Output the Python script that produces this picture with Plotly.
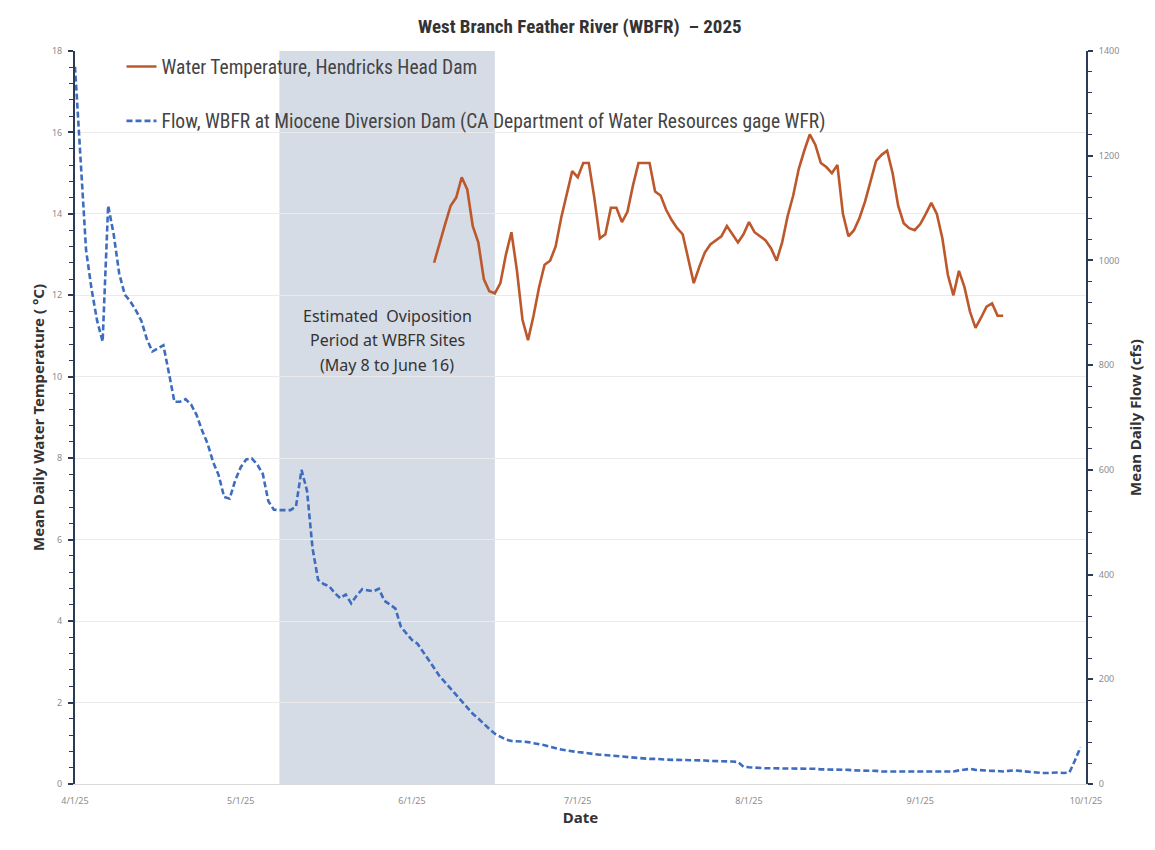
import pandas as pd
import plotly.graph_objects as go

# ---------------- data ----------------
flow_start = "2025-04-01"
flow_cfs = [
    1370, 1190, 1020, 945, 885, 845, 1105, 1050, 975, 935,
    922, 905, 885, 850, 826, 832, 838, 785, 730, 730,
    735, 725, 705, 675, 650, 615, 590, 548, 545, 580,
    605, 620, 622, 610, 592, 540, 524, 523, 523, 523,
    530, 600, 560, 450, 390, 382, 378, 365, 355, 362,
    345, 360, 372, 370, 368, 373, 350, 343, 335, 300,
    287, 275, 268, 252, 238, 220, 206, 194, 182, 172,
    160, 147, 134, 125, 114, 105, 96, 90, 85, 82,
    82, 81, 80, 78, 77, 74, 71, 68, 66, 64,
    62, 61, 60, 58, 57, 56, 55, 54, 53, 52,
    51, 50, 50, 49, 48, 48, 47, 47, 46, 46,
    46, 45, 45, 45, 45, 44, 44, 44, 43, 43,
    42, 33, 32, 31, 31, 30, 30, 30, 30, 30,
    29, 29, 29, 29, 29, 28, 28, 28, 27, 27,
    27, 26, 26, 25, 25, 25, 24, 24, 24, 24,
    23, 23, 23, 23, 23, 23, 23, 23, 23, 24,
    26, 28, 29, 27, 26, 26, 25, 25, 24, 25,
    26, 25, 24, 22, 21, 21, 21, 22, 22, 21,
    22, 45, 70,
]

temp_start = "2025-06-05"
temp_c = [
    12.8, 13.3, 13.75, 14.2, 14.4, 14.9, 14.6, 13.7, 13.3, 12.4,
    12.1, 12.05, 12.3, 13.0, 13.55, 12.6, 11.4, 10.9, 11.5, 12.2,
    12.75, 12.85, 13.2, 13.9, 14.5, 15.05, 14.9, 15.25, 15.25, 14.4,
    13.4, 13.5, 14.15, 14.15, 13.8, 14.05, 14.7, 15.25, 15.25, 15.25,
    14.55, 14.45, 14.1, 13.85, 13.65, 13.5, 12.9, 12.3, 12.7, 13.05,
    13.25, 13.35, 13.45, 13.7, 13.5, 13.3, 13.5, 13.8, 13.55, 13.45,
    13.35, 13.15, 12.85, 13.3, 13.95, 14.45, 15.1, 15.55, 15.95, 15.7,
    15.25, 15.15, 15.0, 15.2, 14.0, 13.45, 13.6, 13.9, 14.3, 14.8,
    15.3, 15.45, 15.55, 15.0, 14.2, 13.77, 13.65, 13.6, 13.75, 14.0,
    14.27, 14.0, 13.4, 12.5, 12.0, 12.6, 12.2, 11.6, 11.2, 11.45,
    11.72, 11.8, 11.5, 11.5,
]

oviposition_start = "2025-05-08"
oviposition_end = "2025-06-16"
oviposition_lines = ["Estimated  Oviposition", "Period at WBFR Sites", "(May 8 to June 16)"]

x_range = ["2025-04-01", "2025-10-01"]
temp_range = [0, 18]
flow_range = [0, 1400]

temp_name = "Water Temperature, Hendricks Head Dam"
flow_name = "Flow, WBFR at Miocene Diversion Dam (CA Department of Water Resources gage WFR)"
title_text = "West Branch Feather River (WBFR)  \u2013 2025"

flow_dates = pd.date_range(flow_start, periods=len(flow_cfs), freq="D")
temp_dates = pd.date_range(temp_start, periods=len(temp_c), freq="D")
ovi_mid = pd.Timestamp(oviposition_start) + (pd.Timestamp(oviposition_end) - pd.Timestamp(oviposition_start)) / 2

# ---------------- styling ----------------
NARROW = "Liberation Sans Narrow, Roboto Condensed, Arial Narrow, Roboto, sans-serif"
AXIS_DARK = "#2b3a55"
TICK_GREY = "#8c8c8c"
TEXT_DARK = "#333333"

fig = go.Figure()
fig.add_trace(go.Scatter(
    x=temp_dates, y=temp_c, mode="lines", name=temp_name,
    line=dict(color="#bd582c", width=2.6), yaxis="y", legendgroup="t",
))
fig.add_trace(go.Scatter(
    x=flow_dates, y=flow_cfs, mode="lines", name=flow_name,
    line=dict(color="#3d6cc0", width=2.6, dash="6px,3px"), yaxis="y2", legendgroup="f",
))

fig.add_shape(
    type="rect", xref="x", yref="paper",
    x0=oviposition_start, x1=oviposition_end, y0=0, y1=1,
    fillcolor="#d6dce6", line=dict(width=0), layer="below",
)
for i, line_text in enumerate(oviposition_lines):
    fig.add_annotation(
        x=ovi_mid, xref="x", y=0.639 - i * 0.0335, yref="paper",
        text=line_text, showarrow=False, yanchor="middle",
        font=dict(family="Noto Sans, Open Sans, sans-serif", size=16, color=TEXT_DARK),
        align="center",
    )

fig.update_layout(
    width=1155, height=850,
    margin=dict(l=75, r=69, t=51, b=66),
    paper_bgcolor="white", plot_bgcolor="white",
    title=dict(
        text=title_text, x=0.502, xanchor="center", y=0.969, yanchor="middle",
        xref="container", yref="container",
        font=dict(family=NARROW, size=19, color=TEXT_DARK, weight="bold"),
    ),
    legend=dict(
        x=0.046, y=1.005, xanchor="left", yanchor="top",
        bgcolor="rgba(0,0,0,0)", borderwidth=0,
        font=dict(family=NARROW, size=19.5, color="#444444"),
        traceorder="grouped", tracegroupgap=26,
    ),
    showlegend=True,
    xaxis=dict(
        range=x_range, type="date",
        tick0="2025-04-01", dtick="M1", tickformat="%-m/%-d/%y",
        ticks="", showgrid=False, zeroline=False,
        showline=True, linecolor="#d9d9d9", linewidth=1,
        ticklabelstandoff=8,
        tickfont=dict(family="Noto Sans, sans-serif", size=9, color=TICK_GREY),
        title=dict(text="Date", standoff=6,
                   font=dict(family="Noto Sans, sans-serif", size=15, color=TEXT_DARK, weight="bold")),
    ),
    yaxis=dict(
        range=temp_range, dtick=2, showgrid=True, gridcolor="#ebebeb", gridwidth=1,
        zeroline=False, showline=True, linecolor=AXIS_DARK, linewidth=2,
        ticks="outside", ticklen=5, tickwidth=1.5, tickcolor=AXIS_DARK,
        minor=dict(dtick=0.4, ticks="outside", ticklen=4, tickwidth=1.2, tickcolor=AXIS_DARK, showgrid=False),
        tickfont=dict(family="Noto Sans, sans-serif", size=9, color=TICK_GREY),
        ticklabelstandoff=4,
        title=dict(text="Mean Daily Water Temperature ( \u00b0C)", standoff=4,
                   font=dict(family="Noto Sans, sans-serif", size=15, color=TEXT_DARK, weight="bold")),
    ),
    yaxis2=dict(
        range=flow_range, dtick=200, overlaying="y", side="right",
        showgrid=False, zeroline=False, showline=True, linecolor=AXIS_DARK, linewidth=2,
        ticks="outside", ticklen=5, tickwidth=1.5, tickcolor=AXIS_DARK,
        minor=dict(dtick=40, ticks="outside", ticklen=4, tickwidth=1.2, tickcolor=AXIS_DARK, showgrid=False),
        tickfont=dict(family="Noto Sans, sans-serif", size=9, color=TICK_GREY),
        ticklabelstandoff=4,
        title=dict(text="Mean Daily Flow (cfs)", standoff=12,
                   font=dict(family="Noto Sans, sans-serif", size=15, color=TEXT_DARK, weight="bold")),
    ),
)

fig.write_html("out.html")
